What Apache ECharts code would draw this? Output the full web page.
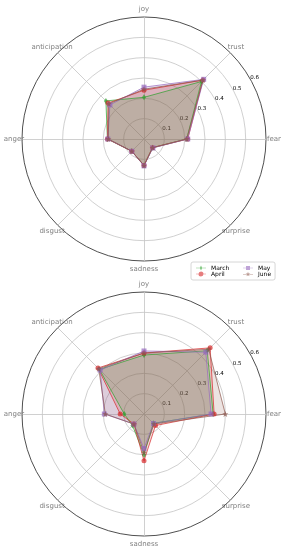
<!DOCTYPE html>
<html>
<head>
<meta charset="utf-8">
<script src="https://cdn.jsdelivr.net/npm/echarts@6/dist/echarts.min.js"></script>
<style>html,body{margin:0;padding:0;background:#fff}#c{width:288px;height:550px}</style>
</head>
<body>
<div id="c"></div>
<script>
// Categories in clockwise order starting at the top
const categories = ['joy', 'trust', 'fear', 'surprise', 'sadness', 'disgust', 'anger', 'anticipation'];
const months = ['March', 'April', 'May', 'June'];
const tickValues = [0.1, 0.2, 0.3, 0.4, 0.5, 0.6];
const rMax = 0.6;

// Top chart values (same order as categories)
const topMarch = [0.205, 0.400, 0.210, 0.060, 0.130, 0.085, 0.180, 0.265];
const topApril = [0.240, 0.410, 0.215, 0.060, 0.130, 0.085, 0.180, 0.250];
const topMay   = [0.255, 0.415, 0.215, 0.062, 0.132, 0.085, 0.178, 0.237];
const topJune  = [0.245, 0.410, 0.210, 0.060, 0.130, 0.085, 0.175, 0.245];

// Bottom chart values
const botMarch = [0.290, 0.440, 0.340, 0.065, 0.200, 0.080, 0.097, 0.310];
const botApril = [0.300, 0.460, 0.345, 0.080, 0.230, 0.070, 0.117, 0.320];
const botMay   = [0.310, 0.430, 0.330, 0.066, 0.170, 0.070, 0.195, 0.305];
const botJune  = [0.300, 0.450, 0.400, 0.070, 0.190, 0.070, 0.190, 0.315];

const colors = ['#2ca02c', '#d62728', '#9467bd', '#8c564b'];
const FONT = 'DejaVu Sans';

// ECharts radar goes counter-clockwise: reorder so the picture runs clockwise
const ORDER = [0, 7, 6, 5, 4, 3, 2, 1];
const reorder = arr => ORDER.map(i => arr[i]);

const symbols = ['diamond', 'circle', 'rect', 'path://M5,0L6.2,3.4L9.8,3.5L7,5.7L8,9.2L5,7.1L2,9.2L3,5.7L0.2,3.5L3.8,3.4Z'];
const symbolSizes = [[4, 6], 5, 5, 6];
const legendIcons = [
  'path://M0,2.2H10V2.8H0Z M5,0L6.2,2.5L5,5L3.8,2.5Z',
  'path://M0,2.2H10V2.8H0Z M5,0A2.5,2.5 0 1,1 4.99,0Z',
  'path://M0,2.2H10V2.8H0Z M3,0.5H7V4.5H3Z',
  'path://M0,2.2H10V2.8H0Z M5,0L5.6,1.7L7.4,1.7L5.9,2.8L6.5,4.6L5,3.5L3.5,4.6L4.1,2.8L2.6,1.7L4.4,1.7Z'
];
const GRID = '#c4c4c4';

function dataRadar(center) {
  return {
    center: center,
    radius: 122,
    startAngle: 90,
    shape: 'circle',
    splitNumber: 6,
    indicator: reorder(categories).map(n => ({ name: n, min: 0, max: rMax })),
    axisName: { color: '#808080', fontSize: 7, fontFamily: FONT, align: 'center', verticalAlign: 'middle' },
    nameGap: 8,
    axisLine: { lineStyle: { color: GRID, width: 0.8 } },
    axisTick: { show: false },
    axisLabel: { show: false },
    splitLine: { lineStyle: { color: [GRID, GRID, GRID, GRID, GRID, GRID, '#222222'], width: 0.8 } },
    splitArea: { show: false }
  };
}
function labelRadar(center) {
  return {
    center: center,
    radius: 122,
    startAngle: 30,
    shape: 'circle',
    splitNumber: tickValues.length,
    indicator: [{ name: '', min: 0, max: rMax }],
    axisName: { show: false },
    axisLine: { show: false },
    axisTick: { show: false },
    splitLine: { show: false },
    splitArea: { show: false },
    axisLabel: {
      show: true, showMinLabel: false, margin: 0,
      color: '#000', fontSize: 5.5, fontFamily: FONT,
      align: 'center', verticalAlign: 'middle', padding: [0, 0, 6, 10],
      formatter: v => (v > 0 ? Number(v).toFixed(1) : '')
    }
  };
}

// Filled areas (drawn first, below all lines/markers)
function fillSeries(radarIndex, arrays) {
  const idx = [3, 2, 1, 0];
  return {
    type: 'radar', radarIndex: radarIndex, z: 1, silent: true,
    symbol: 'none',
    data: idx.map(k => ({
      name: months[k],
      value: reorder(arrays[k]),
      symbol: 'none',
      itemStyle: { color: colors[k] },
      lineStyle: { width: 0, opacity: 0 },
      areaStyle: { color: colors[k], opacity: 0.17 }
    }))
  };
}
// Lines and markers
function lineSeries(radarIndex, arrays) {
  return {
    type: 'radar', radarIndex: radarIndex, z: 2,
    data: arrays.map((arr, k) => ({
      name: months[k],
      value: reorder(arr),
      symbol: symbols[k],
      symbolSize: symbolSizes[k],
      itemStyle: { color: colors[k], opacity: 0.7 },
      lineStyle: { color: colors[k], width: 1, opacity: 0.7 }
    }))
  };
}

const chart = echarts.init(document.getElementById('c'), null, { renderer: 'canvas', width: 288, height: 550 });
chart.setOption({
  backgroundColor: '#fff',
  animation: false,
  textStyle: { fontFamily: FONT },
  radar: [dataRadar([144, 139]), dataRadar([144, 414]), labelRadar([144, 139]), labelRadar([144, 414])],
  legend: {
    left: 191, top: 262, width: 88,
    padding: [3, 4, 3, 5],
    itemGap: 0, itemWidth: 10, itemHeight: 7,
    borderColor: '#cccccc', borderWidth: 0.8, borderRadius: 2,
    backgroundColor: '#fff',
    itemStyle: { opacity: 0.6 },
    data: [0, 2, 1, 3].map(k => ({ name: months[k], icon: legendIcons[k], itemStyle: { color: colors[k] } })),
    formatter: n => (n === 'March' || n === 'April') ? '{a|' + n + '}' : '{b|' + n + '}',
    textStyle: {
      fontSize: 6, color: '#000', fontFamily: FONT,
      rich: { a: { width: 32, fontSize: 6, lineHeight: 7, fontFamily: FONT }, b: { fontSize: 6, lineHeight: 7, fontFamily: FONT } }
    }
  },
  series: [
    fillSeries(0, [topMarch, topApril, topMay, topJune]),
    fillSeries(1, [botMarch, botApril, botMay, botJune]),
    lineSeries(0, [topMarch, topApril, topMay, topJune]),
    lineSeries(1, [botMarch, botApril, botMay, botJune])
  ]
});
</script>
</body>
</html>
